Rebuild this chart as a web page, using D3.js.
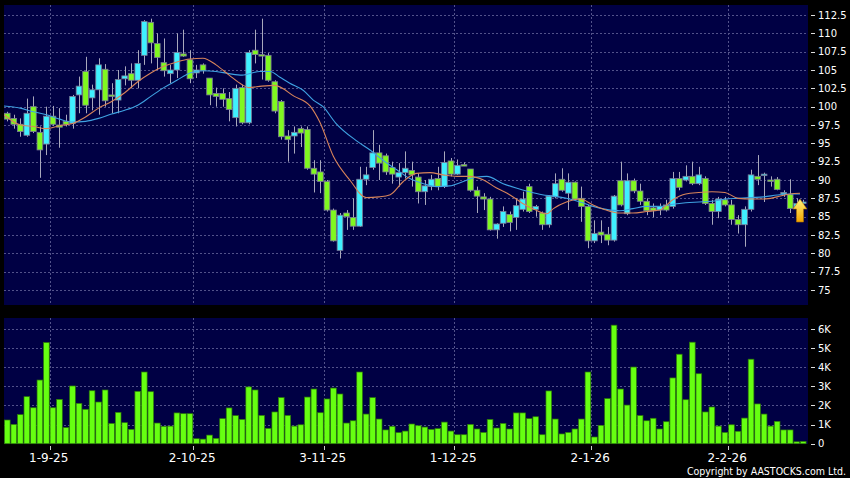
<!DOCTYPE html>
<html>
<head>
<meta charset="utf-8">
<script src="https://cdn.jsdelivr.net/npm/d3@7"></script>
<style>
body { margin:0 ; background:#000 ; }
svg { display:block ; }
text { font-family: "DejaVu Sans", sans-serif ; fill:#fff ; }
</style>
</head>
<body>
<svg id="chart" width="850" height="478"></svg>
<script>

// daily candles, one entry per trading day (oldest first)
const priceOpen = [
	99.1, 98.4, 97.6, 96.1, 100.0, 96.5, 94.9, 98.7, 97.5, 98.0,
	97.7, 101.6, 104.8, 101.2, 102.3, 105.1, 101.6, 100.9, 103.8, 104.5,
	103.6, 107.0, 111.5, 108.6, 106.0, 104.5, 105.0, 107.2, 106.4, 104.6,
	105.7, 103.9, 101.8, 101.8, 101.1, 98.5, 102.6, 97.8, 107.7, 107.1,
	107.0, 103.4, 100.7, 96.0, 96.0, 97.0, 96.9, 91.6, 91.1, 89.8,
	85.9, 80.4, 85.5, 84.9, 83.7, 90.1, 91.7, 93.7, 93.3, 91.7,
	90.4, 91.0, 91.3, 90.4, 88.4, 89.1, 90.2, 89.1, 92.6, 90.8,
	92.1, 91.5, 88.6, 87.7, 87.4, 83.2, 84.1, 85.3, 84.9, 86.0,
	89.1, 86.0, 85.5, 83.9, 87.7, 90.1, 88.2, 89.7, 87.5, 86.4,
	81.7, 82.9, 82.6, 81.8, 89.9, 85.4, 89.9, 88.5, 87.1, 86.2,
	85.9, 86.6, 86.4, 90.2, 90.0, 90.5, 89.5, 90.2, 86.8, 85.7,
	87.3, 86.6, 84.6, 83.9, 86.0, 90.5, 90.6, 90.0, 90.1, 88.1,
	88.0, 86.2, 86.8 ] ;

const priceHigh = [
	99.3, 98.9, 98.4, 101.1, 101.4, 97.3, 100.0, 100.1, 99.8, 98.9,
	101.6, 104.1, 106.8, 103.0, 106.6, 105.8, 103.2, 105.0, 105.5, 105.9,
	107.7, 111.8, 112.0, 110.0, 109.3, 105.7, 110.0, 110.5, 107.7, 105.7,
	105.9, 103.9, 102.6, 102.5, 102.0, 103.0, 103.0, 107.7, 110.5, 112.0,
	107.3, 103.6, 100.9, 96.8, 97.3, 97.3, 97.3, 92.7, 92.7, 90.0,
	86.1, 85.5, 85.9, 87.5, 91.8, 91.8, 96.8, 94.8, 93.6, 92.5,
	92.3, 93.9, 92.5, 90.9, 90.0, 90.7, 91.8, 93.9, 93.0, 92.8,
	92.4, 91.5, 89.1, 88.2, 87.7, 84.1, 86.4, 85.7, 87.5, 88.4,
	89.5, 86.6, 85.7, 87.95, 90.9, 91.6, 90.9, 89.8, 89.1, 86.6,
	84.5, 84.5, 83.6, 87.95, 92.5, 90.9, 90.2, 89.5, 87.5, 86.8,
	86.8, 87.3, 91.1, 91.1, 92.0, 92.5, 91.8, 90.5, 87.3, 87.7,
	87.7, 87.3, 85.2, 86.4, 91.4, 93.4, 91.0, 90.5, 90.4, 88.6,
	90.1, 87.5, 87.3 ] ;

const priceLow = [
	98.0, 97.0, 95.9, 95.9, 96.4, 90.3, 93.4, 97.4, 94.4, 97.3,
	97.0, 99.1, 99.1, 99.5, 98.9, 100.0, 99.1, 99.1, 102.9, 102.5,
	102.5, 105.7, 105.9, 105.0, 104.1, 103.2, 103.9, 106.8, 103.2, 103.9,
	104.5, 100.2, 100.0, 100.0, 98.0, 97.3, 97.6, 97.6, 105.9, 103.7,
	103.4, 99.1, 95.5, 92.5, 93.6, 94.5, 91.4, 88.3, 88.2, 85.7,
	81.6, 79.3, 83.2, 83.2, 83.6, 89.3, 91.4, 90.0, 90.7, 89.5,
	89.1, 90.2, 89.1, 86.8, 86.6, 88.6, 88.6, 88.9, 90.5, 90.7,
	91.9, 88.4, 85.5, 85.9, 83.1, 82.0, 83.6, 83.0, 83.2, 85.7,
	85.5, 85.0, 83.2, 83.5, 87.5, 88.4, 85.9, 87.3, 84.3, 80.7,
	81.4, 81.4, 81.1, 81.6, 86.4, 85.2, 88.2, 86.6, 85.2, 84.9,
	85.2, 85.7, 86.1, 88.6, 89.8, 89.3, 89.3, 86.6, 83.9, 84.8,
	86.4, 83.9, 82.7, 80.9, 85.7, 89.3, 87.0, 89.1, 88.6, 87.7,
	85.5, 85.8, 86.5 ] ;

const priceClose = [
	98.3, 97.6, 96.6, 99.1, 96.6, 94.1, 98.7, 97.6, 97.2, 97.6,
	101.4, 102.8, 100.2, 102.3, 105.7, 100.8, 101.4, 103.7, 104.2, 103.6,
	105.9, 111.6, 108.7, 106.7, 104.9, 105.0, 107.4, 106.9, 103.8, 105.0,
	104.9, 101.6, 101.4, 101.0, 99.6, 102.5, 97.8, 107.4, 107.1, 107.0,
	103.6, 99.4, 95.9, 95.5, 96.5, 96.4, 91.6, 90.8, 89.8, 85.9,
	81.7, 85.2, 85.0, 83.7, 90.1, 90.7, 93.7, 92.3, 91.1, 90.8,
	91.0, 91.6, 90.7, 88.4, 89.2, 90.1, 89.1, 92.4, 90.8, 92.0,
	92.0, 88.6, 87.8, 87.4, 83.2, 84.0, 85.7, 84.2, 86.5, 87.4,
	85.7, 86.4, 83.9, 87.8, 89.5, 88.6, 89.7, 87.4, 86.4, 81.7,
	82.7, 82.5, 81.8, 87.8, 86.6, 89.9, 88.5, 87.1, 85.8, 85.8,
	86.4, 85.9, 90.2, 89.0, 90.5, 89.5, 90.7, 86.8, 85.7, 87.4,
	86.6, 84.6, 83.9, 86.0, 90.7, 90.1, 90.8, 89.9, 88.7, 88.3,
	86.1, 86.8, 87.0 ] ;

// volume in thousands of shares
const volume = [
	1.24, 1.01, 1.52, 2.46, 1.88, 3.33, 5.29, 1.88, 2.32, 0.84,
	3.02, 2.11, 1.80, 2.77, 2.18, 2.81, 1.06, 1.64, 1.10, 0.75,
	2.74, 3.75, 2.72, 1.08, 0.91, 0.92, 1.61, 1.57, 1.57, 0.26,
	0.24, 0.45, 0.28, 1.31, 1.87, 1.47, 1.27, 2.97, 2.81, 1.48,
	0.80, 1.66, 2.41, 1.48, 0.92, 0.99, 2.44, 2.86, 1.62, 2.34,
	2.91, 2.60, 1.08, 1.20, 3.75, 1.55, 2.41, 1.29, 0.72, 0.91,
	0.58, 0.66, 1.03, 0.94, 0.87, 0.75, 0.79, 1.13, 0.66, 0.47,
	0.47, 1.01, 0.77, 0.59, 1.27, 0.82, 1.06, 0.77, 1.61, 1.61,
	1.31, 1.41, 0.47, 2.76, 1.29, 0.51, 0.59, 0.77, 1.29, 3.75,
	0.35, 0.96, 2.36, 6.20, 2.86, 2.02, 4.01, 1.47, 1.20, 1.33,
	0.77, 1.15, 3.44, 4.68, 2.30, 5.31, 3.66, 1.66, 1.92, 0.92,
	0.59, 0.99, 0.65, 1.34, 4.42, 2.08, 1.55, 0.92, 1.17, 0.72,
	0.72, 0.10, 0.12 ] ;

// moving averages (bar position, value)
const maShortAt = [ -0.5, 2, 4, 6, 8, 10, 12, 14, 16, 18, 20, 22, 24, 26, 28, 30, 32, 34, 36, 37,
	39, 41, 44, 46.4, 47.9, 50, 52.5, 55, 57, 58.7, 60.7, 62.7, 64.8, 66.8, 68.9, 70.9, 73, 75, 77, 79,
	81, 82.7, 83.7, 85.7, 87.8, 89.8, 91.8, 93.9, 95.9, 98, 100, 102, 104, 106, 108, 110, 112, 114, 116, 118,
	120, 121.5 ] ;
const maShort = [ 98.9, 97.5, 97.3, 97.0, 97.4, 97.7, 98.6, 99.8, 100.7, 101.9, 103.4, 104.6, 105.5, 106.1, 106.5, 106.6, 105.7, 104.3, 103.0, 102.6,
	102.8, 102.9, 101.4, 100.1, 97.9, 93.2, 90.0, 87.6, 87.7, 88.0, 89.8, 90.9, 91.0, 90.7, 90.5, 90.5, 90.0, 88.9, 88.0, 86.8,
	85.9, 85.4, 86.1, 87.0, 87.4, 86.6, 85.9, 85.5, 85.5, 85.7, 85.9, 87.3, 88.1, 88.3, 88.4, 88.3, 87.5, 87.4, 87.4, 87.7,
	88.1, 88.2 ] ;

const maLongAt = [ -0.5, 2, 4, 6, 8, 10, 12, 14, 16, 18, 20, 22, 24, 26, 28, 30, 32, 34, 36, 38.7,
	40.3, 41.8, 43.3, 45.4, 46.9, 48.4, 50.3, 53.6, 55.6, 57.6, 59.7, 61.7, 63.8, 65.8, 67.8, 69.9, 72, 73.5, 76, 78,
	80, 82, 83.7, 85.7, 87.8, 89.8, 91.8, 93.9, 95.9, 98, 100, 102, 104, 106, 108, 110, 112, 114, 116, 118,
	120, 121.5 ] ;
const maLong = [ 100.1, 99.8, 99.3, 98.9, 98.3, 97.9, 98.0, 98.4, 99.0, 99.5, 100.2, 101.4, 102.6, 103.6, 104.6, 104.9, 104.8, 104.5, 104.3, 104.8,
	104.8, 104.0, 103.2, 102.2, 100.9, 100.0, 97.8, 95.3, 94.1, 92.7, 91.4, 90.2, 89.5, 89.1, 89.2, 89.8, 90.4, 90.5, 89.5, 88.9,
	88.4, 88.0, 87.8, 87.5, 87.0, 86.4, 86.0, 85.8, 86.1, 86.4, 86.4, 86.7, 86.9, 87.0, 87.1, 87.4, 87.5, 87.6, 87.7, 87.95,
	88.1, 88.1 ] ;

// axis ticks
const priceTicks = [ 75, 77.5, 80, 82.5, 85, 87.5, 90, 92.5, 95, 97.5, 100, 102.5, 105, 107.5, 110, 112.5 ] ;
const volTicks = [ 0, 1, 2, 3, 4, 5, 6 ] ;
const dateTickAt = [ 6, 28, 48, 68, 89, 110 ] ;
const dateLabels = [ "1-9-25", "2-10-25", "3-11-25", "1-12-25", "2-1-26", "2-2-26" ] ;


const svg = d3.select( "#chart" ) ;

const PANEL = "#000044" ;
const GRID = "#52528a" ;
const UP = "#3ff0ff" ;
const DOWN = "#80f820" ;
const VOLBAR = "#66ff11" ;

const x = d3.scaleBand()
	.domain( d3.range( priceClose.length ) )
	.range( [4, 806.5] )
	.paddingInner( 0.13 )
	.paddingOuter( 0.065 ) ;
const bw = x.bandwidth() ;
// centre of a (possibly fractional) bar position
function xi( i ) { return x(0) + bw/2 + i * x.step() ; }
// grid / date tick sits at the right edge of the bar slot
function gx( i ) { return xi( i ) + x.step()/2 ; }

const yP = d3.scaleLinear().domain( [75, 112.5] ).range( [290, 15] ) ;
const yV = d3.scaleLinear().domain( [0, 6] ).range( [443.7, 329] ) ;

/*
	background + the two panels
*/
svg.append( "rect" ).attr( "width", 850 ).attr( "height", 478 ).attr( "fill", "#000" ) ;
svg.append( "rect" ).attr( "x", 4 ).attr( "y", 5 ).attr( "width", 804 ).attr( "height", 300 ).attr( "fill", PANEL ) ;
svg.append( "rect" ).attr( "x", 4 ).attr( "y", 318 ).attr( "width", 804 ).attr( "height", 126 ).attr( "fill", PANEL ) ;

svg.append( "clipPath" ).attr( "id", "pclip" )
	.append( "rect" ).attr( "x", 4 ).attr( "y", 5 ).attr( "width", 804 ).attr( "height", 300 ) ;

const grid = svg.append( "g" )
	.attr( "stroke", GRID )
	.attr( "stroke-width", 1 )
	.attr( "stroke-dasharray", "2,2" ) ;

grid.selectAll( "line.ph" )
	.data( priceTicks )
	.enter().append( "line" )
		.attr( "class", "ph" )
		.attr( "x1", 4 ).attr( "x2", 808 )
		.attr( "y1", d => Math.round( yP(d) ) + 0.5 )
		.attr( "y2", d => Math.round( yP(d) ) + 0.5 ) ;

grid.selectAll( "line.vh" )
	.data( volTicks.filter( d => d > 0 ) )
	.enter().append( "line" )
		.attr( "class", "vh" )
		.attr( "x1", 4 ).attr( "x2", 808 )
		.attr( "y1", d => Math.round( yV(d) ) + 0.5 )
		.attr( "y2", d => Math.round( yV(d) ) + 0.5 ) ;

grid.selectAll( "line.pv" )
	.data( dateTickAt )
	.enter().append( "line" )
		.attr( "class", "pv" )
		.attr( "x1", d => Math.round( gx(d) ) + 0.5 )
		.attr( "x2", d => Math.round( gx(d) ) + 0.5 )
		.attr( "y1", 5 ).attr( "y2", 305 ) ;

grid.selectAll( "line.vv" )
	.data( dateTickAt )
	.enter().append( "line" )
		.attr( "class", "vv" )
		.attr( "x1", d => Math.round( gx(d) ) + 0.5 )
		.attr( "x2", d => Math.round( gx(d) ) + 0.5 )
		.attr( "y1", 318 ).attr( "y2", 444 ) ;

/*
	volume bars
*/
svg.append( "g" )
	.selectAll( "rect" )
	.data( volume )
	.enter().append( "rect" )
		.attr( "x", (d,i) => x(i) )
		.attr( "width", bw )
		.attr( "y", d => yV(d) )
		.attr( "height", d => yV(0) - yV(d) )
		.attr( "fill", VOLBAR )
		.attr( "stroke", "#2d7a08" )
		.attr( "stroke-width", 0.7 ) ;

/*
	candles: wick first, then body
*/
const bars = d3.range( priceClose.length ) ;
const candles = svg.append( "g" ).attr( "clip-path", "url(#pclip)" ) ;

candles.selectAll( "line" )
	.data( bars )
	.enter().append( "line" )
		.attr( "x1", i => Math.round( xi(i) ) + 0.5 )
		.attr( "x2", i => Math.round( xi(i) ) + 0.5 )
		.attr( "y1", i => yP( priceHigh[i] ) )
		.attr( "y2", i => yP( priceLow[i] ) )
		.attr( "stroke", "#a8a8bc" )
		.attr( "stroke-width", 1 ) ;

candles.selectAll( "rect" )
	.data( bars )
	.enter().append( "rect" )
		.attr( "x", i => x(i) )
		.attr( "width", bw )
		.attr( "y", i => yP( Math.max( priceOpen[i], priceClose[i] ) ) )
		.attr( "height", i => Math.max( 1.5, Math.abs( yP( priceOpen[i] ) - yP( priceClose[i] ) ) ) )
		.attr( "fill", i => priceClose[i] >= priceOpen[i] ? UP : DOWN )
		.attr( "stroke", "#7a7a96" )
		.attr( "stroke-width", 0.8 ) ;

/*
	moving averages
*/
const maLine = d3.line()
	.x( d => xi( d[0] ) )
	.y( d => yP( d[1] ) )
	.curve( d3.curveMonotoneX ) ;

candles.append( "path" )
	.attr( "d", maLine( d3.zip( maLongAt, maLong ) ) )
	.attr( "fill", "none" )
	.attr( "stroke", "#3fa2e2" )
	.attr( "stroke-width", 1.1 ) ;

candles.append( "path" )
	.attr( "d", maLine( d3.zip( maShortAt, maShort ) ) )
	.attr( "fill", "none" )
	.attr( "stroke", "#d8845a" )
	.attr( "stroke-width", 1.1 ) ;

/*
	last price marker - yellow up arrow
*/
const defs = svg.append( "defs" ) ;
const grad = defs.append( "linearGradient" ).attr( "id", "arrowg" )
	.attr( "x1", 0 ).attr( "y1", 0 ).attr( "x2", 0 ).attr( "y2", 1 ) ;
grad.append( "stop" ).attr( "offset", "0%" ).attr( "stop-color", "#fff27a" ) ;
grad.append( "stop" ).attr( "offset", "100%" ).attr( "stop-color", "#f2a400" ) ;

const last = priceClose.length - 1 ;
const ax = xi( last - 0.5 ) ;
const ay = yP( priceClose[last] ) - 3 ;
svg.append( "path" )
	.attr( "d", "M" + ax + "," + ay +
		" l7,10 l-3.5,0 l0,13 l-7,0 l0,-13 l-3.5,0 Z" )
	.attr( "fill", "url(#arrowg)" )
	.attr( "stroke", "#b07000" )
	.attr( "stroke-width", 0.6 ) ;

/*
	axes text
*/
const axis = svg.append( "g" ) ;

axis.selectAll( "line.pt" )
	.data( priceTicks )
	.enter().append( "line" )
		.attr( "class", "pt" )
		.attr( "x1", 811 ).attr( "x2", 815 )
		.attr( "y1", d => Math.round( yP(d) ) + 0.5 )
		.attr( "y2", d => Math.round( yP(d) ) + 0.5 )
		.attr( "stroke", "#ddd" ) ;

axis.selectAll( "text.pt" )
	.data( priceTicks )
	.enter().append( "text" )
		.attr( "class", "pt" )
		.attr( "x", 818 )
		.attr( "y", d => yP(d) )
		.attr( "dy", "0.36em" )
		.style( "font-size", "10px" )
		.text( d => d ) ;

axis.selectAll( "line.vt" )
	.data( volTicks )
	.enter().append( "line" )
		.attr( "class", "vt" )
		.attr( "x1", 811 ).attr( "x2", 815 )
		.attr( "y1", d => Math.round( yV(d) ) + 0.5 )
		.attr( "y2", d => Math.round( yV(d) ) + 0.5 )
		.attr( "stroke", "#ddd" ) ;

axis.selectAll( "text.vt" )
	.data( volTicks )
	.enter().append( "text" )
		.attr( "class", "vt" )
		.attr( "x", 818 )
		.attr( "y", d => yV(d) )
		.attr( "dy", "0.36em" )
		.style( "font-size", "10px" )
		.text( d => d ? d + "K" : "0" ) ;

axis.selectAll( "line.dt" )
	.data( dateTickAt )
	.enter().append( "line" )
		.attr( "class", "dt" )
		.attr( "x1", d => Math.round( gx(d) ) + 0.5 )
		.attr( "x2", d => Math.round( gx(d) ) + 0.5 )
		.attr( "y1", 446 ).attr( "y2", 450 )
		.attr( "stroke", "#ccc" ) ;

axis.selectAll( "text.dt" )
	.data( dateTickAt )
	.enter().append( "text" )
		.attr( "class", "dt" )
		.attr( "x", d => gx(d) - 1 )
		.attr( "y", 462 )
		.attr( "text-anchor", "middle" )
		.style( "font-size", "12px" )
		.text( (d,i) => dateLabels[i] ) ;

// copyright line, right aligned to the panel edge
svg.append( "text" )
	.attr( "x", 846 )
	.attr( "y", 475 )
	.attr( "text-anchor", "end" )
	.style( "font-family", "'DejaVu Sans Condensed', 'Liberation Sans Narrow', 'DejaVu Sans', sans-serif" )
	.style( "font-size", "10.5px" )
	.text( "Copyright by AASTOCKS.com Ltd." ) ;

</script>
</body>
</html>
